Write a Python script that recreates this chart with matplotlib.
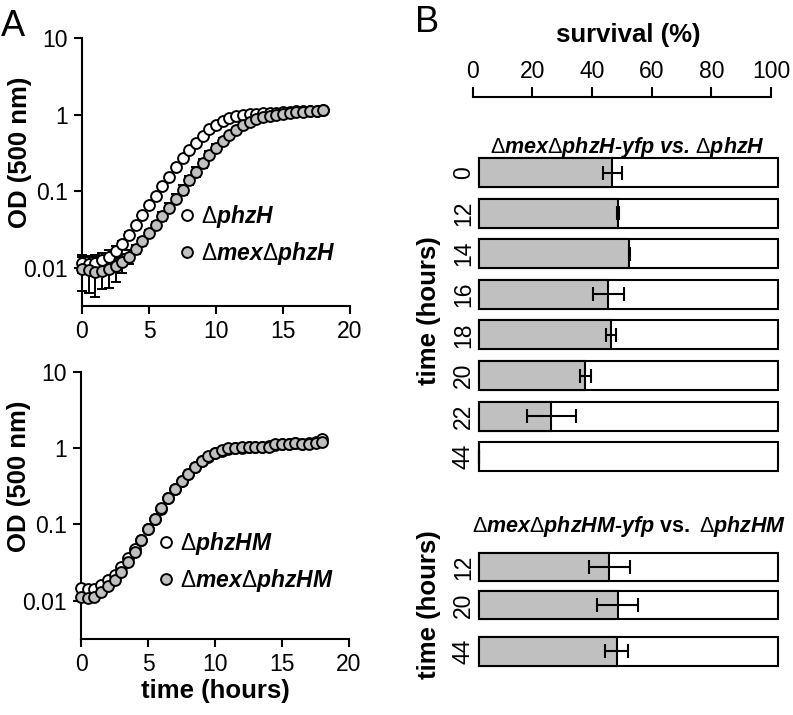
import matplotlib
matplotlib.use("Agg")
import matplotlib.pyplot as plt
import numpy as np
from matplotlib.ticker import NullLocator

plt.rcParams['font.family'] = ['Liberation Sans', 'DejaVu Sans']
plt.rcParams['mathtext.fontset'] = 'custom'
plt.rcParams['mathtext.rm'] = 'Liberation Sans'
plt.rcParams['mathtext.it'] = 'Liberation Sans:italic'
plt.rcParams['mathtext.bf'] = 'Liberation Sans:bold'

# growth curves, OD500 every 0.5 h
time_h = np.arange(0, 18.5, 0.5)

od_phzH = [0.0115, 0.0112, 0.0115, 0.0125, 0.014, 0.0165, 0.0205, 0.027, 0.036,
           0.049, 0.066, 0.087, 0.115, 0.155, 0.205, 0.27, 0.345, 0.43, 0.53,
           0.64, 0.74, 0.83, 0.90, 0.95, 0.99, 1.01, 1.03, 1.04, 1.05, 1.06,
           1.08, 1.09, 1.10, 1.11, 1.12, 1.13, 1.14]
od_phzH_err = [0.003, 0.003, 0.003, 0.003, 0.003, 0.003, 0.002, 0.002, 0.002,
               0.003, 0.004, 0.005, 0.007, 0.009, 0.012, 0.015, 0.018, 0.02, 0.02,
               0.02, 0.02, 0.02, 0.02, 0.02, 0.02, 0.02, 0.02, 0.02, 0.02, 0.02,
               0.02, 0.02, 0.02, 0.02, 0.02, 0.02, 0.02]
od_mex_phzH = [0.0095, 0.0092, 0.0089, 0.0091, 0.0095, 0.0104, 0.0118, 0.014, 0.0175,
               0.022, 0.028, 0.036, 0.047, 0.061, 0.08, 0.105, 0.14, 0.18, 0.23,
               0.30, 0.37, 0.45, 0.54, 0.63, 0.72, 0.80, 0.87, 0.93, 0.97, 1.0,
               1.03, 1.05, 1.07, 1.09, 1.11, 1.13, 1.15]
od_mex_phzH_err = [0.0045, 0.0045, 0.0047, 0.0038, 0.004, 0.0038, 0.0032, 0.0028, 0.0025,
                   0.0025, 0.003, 0.004, 0.006, 0.008, 0.011, 0.015, 0.02, 0.025, 0.03,
                   0.035, 0.04, 0.04, 0.04, 0.035, 0.03, 0.02, 0.02, 0.02, 0.02, 0.02,
                   0.02, 0.02, 0.02, 0.02, 0.02, 0.02, 0.02]

od_phzHM = [0.0145, 0.0143, 0.0142, 0.016, 0.0185, 0.022, 0.028, 0.036, 0.047,
            0.063, 0.088, 0.118, 0.16, 0.22, 0.29, 0.37, 0.46, 0.56, 0.67,
            0.77, 0.85, 0.92, 0.97, 1.0, 1.01, 1.02, 1.03, 1.03, 1.05, 1.10,
            1.12, 1.14, 1.18, 1.14, 1.16, 1.20, 1.30]
od_mex_phzHM = [0.0112, 0.0108, 0.0112, 0.013, 0.0155, 0.019, 0.024, 0.032, 0.044,
                0.062, 0.087, 0.118, 0.163, 0.222, 0.295, 0.37, 0.46, 0.57, 0.68,
                0.78, 0.85, 0.93, 0.99, 1.01, 1.02, 1.02, 1.02, 1.02, 1.04, 1.12,
                1.12, 1.14, 1.18, 1.13, 1.14, 1.15, 1.21]

# competition survival (%)
surv1_times = ['0', '12', '14', '16', '18', '20', '22', '44']
surv1 = [44.6, 46.6, 50.3, 43.3, 44.1, 35.6, 24.1, 0]
surv1_err = [3.1, 0.3, 0.15, 5.2, 1.7, 1.9, 8.2, 0]
surv2_times = ['12', '20', '44']
surv2 = [43.6, 46.4, 46.0]
surv2_err = [6.9, 6.9, 3.9]

W, H = 793, 715
fig = plt.figure(figsize=(W / 100, H / 100), dpi=100)


def px_axes(l, t, r, b):
    return fig.add_axes([l / W, 1 - b / H, (r - l) / W, (b - t) / H])


TICK = 16.5
LAB = 18.5
GRAY = '#c0c0c0'


def growth(ax, y_open, y_gray, labels, err_open=None, err_gray=None):
    if err_open is not None:
        ax.errorbar(time_h, y_open, yerr=err_open, fmt='none', ecolor='black',
                    elinewidth=1.4, capsize=3.8, capthick=1.4, zorder=2, clip_on=False)
    ax.plot(time_h, y_open, 'o', ms=7.8, mfc='white', mec='black', mew=1.4,
            label=labels[0], zorder=3, clip_on=False)
    if err_gray is not None:
        ax.errorbar(time_h, y_gray, yerr=err_gray, fmt='none', ecolor='black',
                    elinewidth=1.4, capsize=3.8, capthick=1.4, zorder=2, clip_on=False)
    ax.plot(time_h, y_gray, 'o', ms=7.8, mfc=GRAY, mec='black', mew=1.4,
            label=labels[1], zorder=4, clip_on=False)

    ax.set_yscale('log')
    ax.set_xlim(0, 20)
    ax.set_ylim(10 ** -2.5, 10)
    ax.set_yticks([0.01, 0.1, 1, 10])
    ax.set_yticklabels(['0.01', '0.1', '1', '10'])
    ax.yaxis.set_minor_locator(NullLocator())
    ax.set_xticks([0, 5, 10, 15, 20])
    for s in ['top', 'right']:
        ax.spines[s].set_visible(False)
    for s in ['left', 'bottom']:
        ax.spines[s].set_linewidth(1.5)
    ax.tick_params(width=1.5, length=6, labelsize=TICK, pad=4)
    ax.set_ylabel('OD (500 nm)', fontsize=LAB, fontweight='bold', va='center')


axA1 = px_axes(82, 38, 350, 306)
growth(axA1, od_phzH, od_mex_phzH, [r'$\Delta$phzH', r'$\Delta$mex$\Delta$phzH'],
       od_phzH_err, od_mex_phzH_err)
axA1.yaxis.set_label_coords(-0.231, 0.575)
axA1.legend(loc='upper left', bbox_to_anchor=(0.3675, 0.386), frameon=False,
            handlelength=0.6, handletextpad=0.3, borderpad=0, borderaxespad=0,
            labelspacing=0.45, prop={'size': 16.5, 'weight': 'bold', 'style': 'italic'})

axA2 = px_axes(81, 371.7, 349, 639)
growth(axA2, od_phzHM, od_mex_phzHM, [r'$\Delta$phzHM', r'$\Delta$mex$\Delta$phzHM'])
axA2.yaxis.set_label_coords(-0.231, 0.61)
axA2.set_xlabel('time (hours)', fontsize=LAB, fontweight='bold', va='center')
axA2.xaxis.set_label_coords(0.5, -0.195)
axA2.legend(loc='upper left', bbox_to_anchor=(0.291, 0.4085), frameon=False,
            handlelength=0.6, handletextpad=0.3, borderpad=0, borderaxespad=0,
            labelspacing=0.45, prop={'size': 16.5, 'weight': 'bold', 'style': 'italic'})


def bars(ax, pos, vals, errs, labels, height):
    ax.barh(pos, 100, height=height, color='white', edgecolor='black',
            linewidth=1.5, clip_on=False)
    ax.barh(pos, vals, height=height, color=GRAY, edgecolor='black',
            linewidth=1.5, clip_on=False)
    ax.errorbar(vals, pos, xerr=errs, fmt='none', ecolor='black', elinewidth=1.5,
                capsize=5, capthick=1.5, clip_on=False)
    ax.set_xlim(0, 100)
    ax.set_ylim(pos[-1] + 0.5, pos[0] - 0.5)
    ax.set_yticks(pos)
    ax.set_yticklabels(labels, rotation=90, va='center')
    ax.tick_params(axis='y', length=0, pad=3, labelsize=TICK)
    ax.set_xticks([])
    for s in ax.spines.values():
        s.set_visible(False)
    ax.set_ylabel('time (hours)', fontsize=LAB, fontweight='bold', va='center')


axB1 = px_axes(479, 152.2, 778, 477)
bars(axB1, np.arange(len(surv1)), surv1, surv1_err, surv1_times, 0.714)
axB1.yaxis.set_label_coords(-0.167, 0.511)
axB1.text(0.495, 1.016, r'$\Delta$mex$\Delta$phzH-yfp vs. $\Delta$phzH',
          transform=axB1.transAxes, ha='center', va='center', fontsize=15.5,
          fontweight='bold', style='italic')

axB2 = px_axes(479, 548, 778, 670.4)
bars(axB2, np.array([0, 1, 2.22]), surv2, surv2_err, surv2_times, 0.75)
axB2.yaxis.set_label_coords(-0.167, 0.534)
axB2.text(0.503, 1.172, r'$\Delta$mex$\Delta$phzHM-yfp $\mathbf{vs.}$ $\Delta$phzHM',
          transform=axB2.transAxes, ha='center', va='center', fontsize=15.5,
          fontweight='bold', style='italic')

# survival axis on top
axT = fig.add_axes([472.7 / W, 1 - 97 / H - 1e-4, 298.3 / W, 1e-4])
axT.patch.set_visible(False)
axT.set_xlim(0, 100)
axT.set_xticks([0, 20, 40, 60, 80, 100])
axT.set_yticks([])
for s in ['left', 'right', 'bottom']:
    axT.spines[s].set_visible(False)
axT.spines['top'].set_linewidth(1.5)
axT.tick_params(axis='x', top=True, bottom=False, labeltop=True, labelbottom=False,
                length=7, width=1.5, pad=3, labelsize=TICK)
axT.xaxis.set_label_position('top')
axT.set_xlabel('survival (%)', fontsize=LAB, fontweight='bold', va='center')
axT.xaxis.set_label_coords(628 / W, 1 - 35 / H, transform=fig.transFigure)

fig.text(13 / W, 1 - 26 / H, 'A', fontsize=26, ha='center', va='center')
fig.text(427 / W, 1 - 23 / H, 'B', fontsize=26, ha='center', va='center')

fig.savefig('out.png', dpi=100)
